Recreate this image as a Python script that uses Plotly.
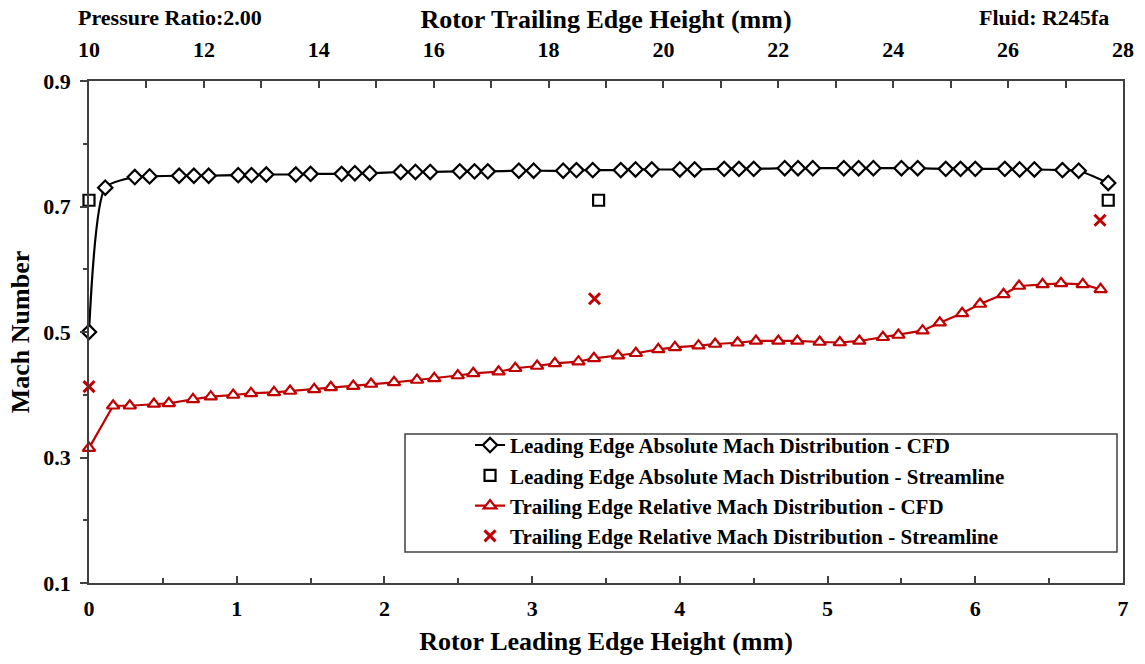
import plotly.graph_objects as go

# Leading edge absolute Mach number (CFD), vs rotor leading edge height (mm)
le_cfd_x = [0.00, 0.11, 0.31, 0.41, 0.61, 0.71, 0.81, 1.01, 1.10, 1.20, 1.40, 1.50,
            1.71, 1.80, 1.90, 2.11, 2.21, 2.31, 2.51, 2.61, 2.70, 2.91, 3.01, 3.21,
            3.30, 3.41, 3.60, 3.70, 3.81, 4.00, 4.10, 4.30, 4.40, 4.50, 4.71, 4.80,
            4.90, 5.11, 5.21, 5.31, 5.50, 5.61, 5.80, 5.90, 6.00, 6.20, 6.30, 6.40,
            6.59, 6.70, 6.90]
le_cfd_mach = [0.500, 0.730, 0.747, 0.748, 0.749, 0.749, 0.749, 0.750, 0.750, 0.751,
               0.751, 0.752, 0.752, 0.753, 0.753, 0.755, 0.755, 0.755, 0.756, 0.756,
               0.756, 0.757, 0.757, 0.757, 0.758, 0.758, 0.758, 0.759, 0.759, 0.759,
               0.759, 0.760, 0.760, 0.760, 0.761, 0.761, 0.761, 0.761, 0.761, 0.761,
               0.761, 0.761, 0.760, 0.760, 0.760, 0.760, 0.759, 0.759, 0.758, 0.757,
               0.7375]

# Leading edge absolute Mach number (streamline model)
le_sl_x = [0.00, 3.45, 6.90]
le_sl_mach = [0.710, 0.710, 0.710]

# Trailing edge relative Mach number (CFD), vs rotor trailing edge height (mm)
te_cfd_x = [10.00, 10.42, 10.71, 11.13, 11.39, 11.81, 12.12, 12.51, 12.82, 13.22,
            13.50, 13.92, 14.21, 14.60, 14.91, 15.31, 15.71, 16.01, 16.42, 16.69,
            17.13, 17.42, 17.80, 18.11, 18.52, 18.79, 19.21, 19.52, 19.91, 20.20,
            20.61, 20.90, 21.29, 21.61, 22.00, 22.33, 22.72, 23.07, 23.41, 23.82,
            24.09, 24.51, 24.81, 25.20, 25.51, 25.92, 26.19, 26.60, 26.92, 27.30,
            27.61]
te_cfd_mach = [0.315, 0.3825, 0.3825, 0.3853, 0.3864, 0.3927, 0.3969, 0.3996, 0.4023,
               0.4039, 0.4060, 0.4087, 0.4119, 0.4139, 0.4171, 0.4198, 0.4235, 0.4262,
               0.4307, 0.4342, 0.4367, 0.4422, 0.4458, 0.4501, 0.4527, 0.4581, 0.4622,
               0.4661, 0.4724, 0.4756, 0.4782, 0.4809, 0.4829, 0.4857, 0.4857, 0.4857,
               0.4841, 0.4833, 0.4857, 0.4916, 0.4952, 0.5021, 0.5148, 0.5298, 0.5446,
               0.5601, 0.5733, 0.5760, 0.5776, 0.5760, 0.5680]

# Trailing edge relative Mach number (streamline model)
te_sl_x = [10.0, 18.8, 27.6]
te_sl_mach = [0.413, 0.553, 0.678]

RED = "#C00000"
FONT = "Liberation Serif"
AXIS_COLOR = "#404040"

fig = go.Figure()

fig.add_trace(go.Scatter(
    x=le_cfd_x, y=le_cfd_mach, mode="lines+markers",
    name="Leading Edge Absolute Mach Distribution - CFD",
    line=dict(color="black", width=2.2, shape="spline", smoothing=0.6),
    marker=dict(symbol="diamond", size=11, color="white",
                line=dict(color="black", width=2.2)),
    cliponaxis=False, xaxis="x", yaxis="y",
))
fig.add_trace(go.Scatter(
    x=le_sl_x, y=le_sl_mach, mode="markers",
    name="Leading Edge Absolute Mach Distribution - Streamline",
    marker=dict(symbol="square", size=11, color="white",
                line=dict(color="black", width=2.2)),
    cliponaxis=False, xaxis="x", yaxis="y",
))
fig.add_trace(go.Scatter(
    x=te_cfd_x, y=te_cfd_mach, mode="lines+markers",
    name="Trailing Edge Relative Mach Distribution - CFD",
    line=dict(color=RED, width=2.2),
    marker=dict(symbol="triangle-up", size=11, color="white",
                line=dict(color=RED, width=2.2)),
    cliponaxis=False, xaxis="x2", yaxis="y",
))
fig.add_trace(go.Scatter(
    x=te_sl_x, y=te_sl_mach, mode="markers",
    name="Trailing Edge Relative Mach Distribution - Streamline",
    marker=dict(symbol="x-thin", size=11, color=RED,
                line=dict(color=RED, width=3)),
    cliponaxis=False, xaxis="x2", yaxis="y",
))

tick_font = dict(family=FONT, size=22, color="black", weight="bold")
title_font = dict(family=FONT, size=26, color="black", weight="bold")
note_font = dict(family=FONT, size=22, color="black", weight="bold")

fig.update_layout(
    width=1145, height=664,
    margin=dict(l=89, r=22, t=81, b=81),
    paper_bgcolor="white", plot_bgcolor="white",
    showlegend=True,
    legend=dict(
        x=0.3685, y=0.315, xanchor="left", yanchor="top",
        bgcolor="rgba(0,0,0,0)", borderwidth=0,
        font=dict(family=FONT, size=21, color="black", weight="bold"),
    ),
    xaxis=dict(
        range=[0, 7], tick0=0, dtick=1, automargin=False,
        showgrid=False, zeroline=False,
        showline=True, linecolor=AXIS_COLOR, linewidth=1.5,
        ticks="inside", ticklen=7, tickcolor=AXIS_COLOR, tickwidth=1.5,
        minor=dict(dtick=0.5, ticks="inside", ticklen=5,
                   tickcolor=AXIS_COLOR, tickwidth=1.5),
        tickfont=tick_font, ticklabelstandoff=5,
        title=dict(text="Rotor Leading Edge Height (mm)", font=title_font, standoff=12),
    ),
    xaxis2=dict(
        range=[10, 28], tick0=10, dtick=2, automargin=False,
        overlaying="x", side="top", anchor="y",
        showgrid=False, zeroline=False,
        showline=True, linecolor=AXIS_COLOR, linewidth=1.5,
        ticks="inside", ticklen=7, tickcolor=AXIS_COLOR, tickwidth=1.5,
        minor=dict(dtick=1, ticks="inside", ticklen=7,
                   tickcolor=AXIS_COLOR, tickwidth=1.5),
        tickfont=tick_font, ticklabelstandoff=13,
        title=dict(text="Rotor Trailing Edge Height (mm)", font=title_font, standoff=1),
    ),
    yaxis=dict(
        range=[0.1, 0.9], tick0=0.1, dtick=0.2, tickformat=".1f", automargin=False,
        showgrid=False, zeroline=False,
        showline=True, mirror=True, linecolor=AXIS_COLOR, linewidth=1.5,
        ticks="outside", ticklen=7, tickcolor=AXIS_COLOR, tickwidth=1.5,
        minor=dict(dtick=0.1, ticks="outside", ticklen=4,
                   tickcolor=AXIS_COLOR, tickwidth=1.5),
        tickfont=tick_font, ticklabelstandoff=5,
        title=dict(text="Mach Number", font=title_font, standoff=6),
    ),
    shapes=[
        dict(type="rect", xref="paper", yref="paper",
             x0=(405 - 89) / 1034, x1=(1117 - 89) / 1034,
             y0=1 - (552 - 81) / 502, y1=1 - (434 - 81) / 502,
             line=dict(color=AXIS_COLOR, width=1.5), fillcolor="rgba(0,0,0,0)"),
    ],
    annotations=[
        dict(text="Pressure Ratio:2.00", xref="paper", yref="paper",
             x=(170 - 89) / 1034, y=1 + (81 - 17) / 502,
             xanchor="center", yanchor="middle", showarrow=False, font=note_font),
        dict(text="Fluid: R245fa", xref="paper", yref="paper",
             x=(1044 - 89) / 1034, y=1 + (81 - 17) / 502,
             xanchor="center", yanchor="middle", showarrow=False, font=note_font),
    ],
)

fig.write_html("out.html")
